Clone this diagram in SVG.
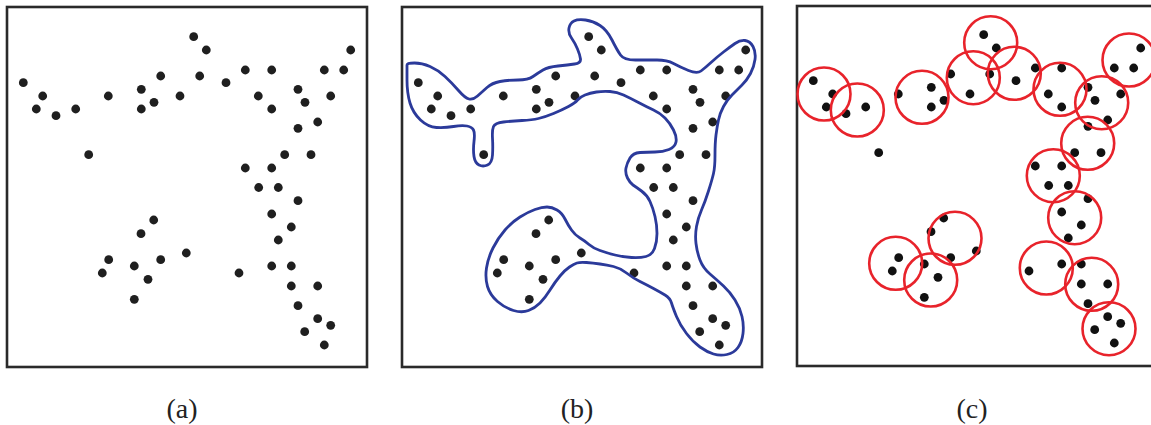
<svg xmlns="http://www.w3.org/2000/svg" width="1151" height="425" viewBox="0 0 1151 425">
<style>
.frame{fill:#fff;stroke:#2a2a2a;stroke-width:2.6}
.blob{fill:none;stroke:#2b3a9a;stroke-width:2.8;stroke-linejoin:round}
.ring{fill:none;stroke:#e8232b;stroke-width:2.6}
.lbl{font-family:"Liberation Serif","DejaVu Serif",serif;font-size:28px;fill:#222;text-anchor:middle}
</style>
<defs>
<g id="dots">
<circle cx="23.3" cy="82.7" r="4.4"/><circle cx="42.7" cy="96" r="4.4"/><circle cx="36.3" cy="109" r="4.4"/><circle cx="56" cy="115.7" r="4.4"/><circle cx="75.7" cy="109" r="4.4"/><circle cx="88.7" cy="154.7" r="4.4"/><circle cx="108.3" cy="96" r="4.4"/><circle cx="141.3" cy="89.3" r="4.4"/><circle cx="160.7" cy="76" r="4.4"/><circle cx="154" cy="102.3" r="4.4"/><circle cx="141.3" cy="109" r="4.4"/><circle cx="180" cy="96" r="4.4"/><circle cx="193.7" cy="36.7" r="4.4"/><circle cx="206.3" cy="50" r="4.4"/><circle cx="199.7" cy="76" r="4.4"/><circle cx="226" cy="82.7" r="4.4"/><circle cx="245.3" cy="70" r="4.4"/><circle cx="271.7" cy="70" r="4.4"/><circle cx="258.3" cy="96" r="4.4"/><circle cx="271.7" cy="109" r="4.4"/><circle cx="298" cy="89.3" r="4.4"/><circle cx="305" cy="102.3" r="4.4"/><circle cx="330.7" cy="96" r="4.4"/><circle cx="324.3" cy="70" r="4.4"/><circle cx="343.7" cy="70" r="4.4"/><circle cx="350.7" cy="50" r="4.4"/><circle cx="317.7" cy="122" r="4.4"/><circle cx="298" cy="128.3" r="4.4"/><circle cx="284.7" cy="154.7" r="4.4"/><circle cx="311" cy="154.7" r="4.4"/><circle cx="245.3" cy="168" r="4.4"/><circle cx="271.7" cy="168" r="4.4"/><circle cx="258.7" cy="187.5" r="4.4"/><circle cx="278.3" cy="187.5" r="4.4"/><circle cx="298" cy="200.7" r="4.4"/><circle cx="271.7" cy="214" r="4.4"/><circle cx="291.3" cy="227" r="4.4"/><circle cx="278.3" cy="240" r="4.4"/><circle cx="239" cy="273" r="4.4"/><circle cx="271.7" cy="266" r="4.4"/><circle cx="291.3" cy="266" r="4.4"/><circle cx="291.3" cy="286" r="4.4"/><circle cx="317.7" cy="286" r="4.4"/><circle cx="298" cy="305.7" r="4.4"/><circle cx="317.7" cy="318.7" r="4.4"/><circle cx="330.7" cy="325.3" r="4.4"/><circle cx="304.7" cy="331.7" r="4.4"/><circle cx="324.3" cy="345" r="4.4"/><circle cx="153.7" cy="220" r="4.4"/><circle cx="141" cy="233.7" r="4.4"/><circle cx="108.7" cy="259.7" r="4.4"/><circle cx="102.3" cy="273" r="4.4"/><circle cx="134.3" cy="266" r="4.4"/><circle cx="160.7" cy="259.7" r="4.4"/><circle cx="186.3" cy="253" r="4.4"/><circle cx="148" cy="279.3" r="4.4"/><circle cx="134.3" cy="299.3" r="4.4"/>
</g>
</defs>
<rect width="1151" height="425" fill="#fff"/>
<g id="panel-a">
<rect class="frame" x="7" y="7" width="360" height="360"/>
<use href="#dots" fill="#1f1f1f"/>
<text class="lbl" x="182" y="418">(a)</text>
</g>
<g id="panel-b">
<rect class="frame" x="402" y="7" width="360" height="360"/>
<use href="#dots" x="395" fill="#1f1f1f"/>
<path class="blob" d="M407,65 Q407,63 414.5,63 Q422,63 430,66.5 Q438,70 445,76.5 Q452,83 458.5,90.5 Q465,98 469,99 Q473,100 477.5,96 Q482,92 487,87.5 Q492,83 500,81.5 Q508,80 518,80 Q528,80 533,76.5 Q538,73 543,70 Q548,67 558,66 Q568,65 574.5,64 Q581,63 580.5,59 Q580,55 577.5,49 Q575,43 571.5,38 Q568,33 569,28 Q570,23 574,21 Q578,19 585.5,20 Q593,21 600,25.5 Q607,30 612,40 Q617,50 620.5,55 Q624,60 635.5,60 Q647,60 657,60 Q667,60 673.5,63.5 Q680,67 688.5,70.5 Q697,74 701,71 Q705,68 711,62.5 Q717,57 723.5,52 Q730,47 735,43.5 Q740,40 745,40.5 Q750,41 753,46.5 Q756,52 755,59.5 Q754,67 750.5,73.5 Q747,80 742,85 Q737,90 732,95 Q727,100 723.5,106.5 Q720,113 718.5,120 Q717,127 716,135 Q715,143 715,155 Q715,167 713.5,173.5 Q712,180 708.5,191 Q705,202 701.5,210 Q698,218 696.5,226.5 Q695,235 696,243.5 Q697,252 700,260 Q703,268 710,274 Q717,280 723.5,286 Q730,292 735,300 Q740,308 742,316.5 Q744,325 743,333.5 Q742,342 738,347.5 Q734,353 727,354.5 Q720,356 713.5,354 Q707,352 700,347 Q693,342 686.5,333.5 Q680,325 676.5,316.5 Q673,308 671.5,303 Q670,298 665,295 Q660,292 653.5,288.5 Q647,285 640,281.5 Q633,278 626.5,273 Q620,268 613.5,266.5 Q607,265 600,264 Q593,263 586.5,262.5 Q580,262 577,263 Q574,264 569.5,267 Q565,270 560,276 Q555,282 550,290 Q545,298 540,303 Q535,308 528.5,310.5 Q522,313 513.5,310.5 Q505,308 497.5,301.5 Q490,295 487.5,286.5 Q485,278 486.5,268 Q488,258 493,248 Q498,238 505,230 Q512,222 520,217 Q528,212 535,209.5 Q542,207 547,207 Q552,207 557,210 Q562,213 565,219 Q568,225 571.5,230 Q575,235 580,238 Q585,241 589,244.5 Q593,248 600,250.5 Q607,253 615,255 Q623,257 631.5,257.5 Q640,258 646,256.5 Q652,255 654.5,248.5 Q657,242 657,233.5 Q657,225 655,216.5 Q653,208 650,201.5 Q647,195 641.5,191 Q636,187 633,185 Q630,183 627.5,178 Q625,173 626,168 Q627,163 630,158 Q633,153 640,152.5 Q647,152 655,152 Q663,152 669,149.5 Q675,147 676,142 Q677,137 673.5,130 Q670,123 665,118 Q660,113 653.5,110 Q647,107 638.5,102.5 Q630,98 623.5,95 Q617,92 610,91.5 Q603,91 596.5,92 Q590,93 585,95 Q580,97 577.5,100 Q575,103 568.5,106.5 Q562,110 553.5,113.5 Q545,117 538.5,118.5 Q532,120 522,120.5 Q512,121 503.5,122 Q495,123 493.5,126.5 Q492,130 492.5,138.5 Q493,147 492.5,155 Q492,163 487.5,165 Q483,167 479,165 Q475,163 474,156.5 Q473,150 474,141.5 Q475,133 473.5,130 Q472,127 467,126 Q462,125 453.5,126.5 Q445,128 436.5,127.5 Q428,127 420.5,120 Q413,113 410,103 Q407,93 407,80 Q407,67 407,65 Z"/>
<text class="lbl" x="577" y="418">(b)</text>
</g>
<g id="panel-c">
<rect class="frame" x="797" y="6" width="362" height="360"/>
<use href="#dots" transform="translate(790,-2)" fill="#111"/>
<g id="rings">
<circle class="ring" cx="824" cy="94" r="26.5"/>
<circle class="ring" cx="857.3" cy="110" r="26.5"/>
<circle class="ring" cx="922" cy="97.3" r="26.5"/>
<circle class="ring" cx="973.3" cy="77.7" r="26.5"/>
<circle class="ring" cx="990.7" cy="42.7" r="26.5"/>
<circle class="ring" cx="1014.3" cy="73.3" r="26.5"/>
<circle class="ring" cx="1060" cy="89.3" r="26.5"/>
<circle class="ring" cx="1101.7" cy="102.7" r="26.5"/>
<circle class="ring" cx="1129" cy="60" r="26.5"/>
<circle class="ring" cx="1087.7" cy="143.3" r="26.5"/>
<circle class="ring" cx="1053.3" cy="175.7" r="26.5"/>
<circle class="ring" cx="1074.7" cy="217.7" r="26.5"/>
<circle class="ring" cx="1046.3" cy="268" r="26.5"/>
<circle class="ring" cx="1091.7" cy="284.3" r="26.5"/>
<circle class="ring" cx="1109" cy="328.7" r="26.5"/>
<circle class="ring" cx="955" cy="238.3" r="26.5"/>
<circle class="ring" cx="895.7" cy="263.3" r="26.5"/>
<circle class="ring" cx="930.7" cy="280" r="26.5"/>
</g>
<text class="lbl" x="972" y="418">(c)</text>
</g>
</svg>
